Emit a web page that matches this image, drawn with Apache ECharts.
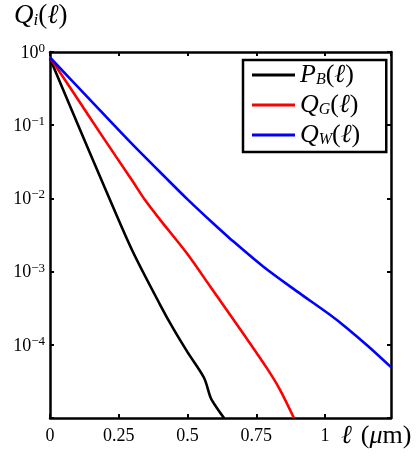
<!DOCTYPE html>
<html><head><meta charset="utf-8">
<script src="https://cdn.jsdelivr.net/npm/echarts@6.0.0/dist/echarts.min.js"></script>
<style>html,body{margin:0;padding:0;background:#fff}#c{width:417px;height:462px}</style>
</head><body><div id="c"></div>
<script>
// tick labels
const xTickValues = [0, 0.25, 0.5, 0.75, 1];
const yTickExponents = [0, -1, -2, -3, -4];
// series names
const seriesNames = ['PB', 'QG', 'QW'];
// P_B(l)
const pbX = [0, 0.1, 0.2, 0.3, 0.4, 0.45, 0.5, 0.56, 0.585, 0.61, 0.633];
const pbY = [0.813, 0.105, 0.0138, 0.00191, 0.000355, 0.000162, 0.0000794, 0.0000355, 0.0000186, 0.0000132, 0.00001];
// Q_G(l)
const qgX = [0, 0.091, 0.182, 0.297, 0.345, 0.4, 0.497, 0.582, 0.698, 0.788, 0.836, 0.887];
const qgY = [0.841, 0.259, 0.0785, 0.01795, 0.00957, 0.00513, 0.00179, 0.000631, 0.000151, 0.0000484, 0.0000245, 0.00001];
// Q_W(l)
const qwX = [0, 0.145, 0.284, 0.424, 0.502, 0.593, 0.655, 0.775, 0.898, 1.018, 1.079, 1.157, 1.24];
const qwY = [0.841, 0.224, 0.0631, 0.01862, 0.00955, 0.00457, 0.00282, 0.001175, 0.000537, 0.000257, 0.00017, 0.0000955, 0.0000495];

const colors = ['#000000', '#ff0000', '#0000ff'];
const zip = (xs, ys) => xs.map((x, i) => [x, ys[i]]);
const serif = '"Liberation Serif", "DejaVu Serif", serif';

const legendText = {
  PB: '{i|P}{sub|B}{n|(}{i|ℓ}{n|)}',
  QG: '{i|Q}{sub|G}{n|(}{i|ℓ}{n|)}',
  QW: '{i|Q}{sub|W}{n|(}{i|ℓ}{n|)}'
};

const chart = echarts.init(document.getElementById('c'), null, {renderer: 'canvas'});
const tickStyle = {show: true, inside: true, length: 4, lineStyle: {color: '#000', width: 2}};
const lineStyleAxis = {show: true, onZero: false, lineStyle: {color: '#000', width: 2.5}};

chart.setOption({
  animation: false,
  backgroundColor: '#fff',
  grid: {left: 50, right: 26, top: 52, bottom: 44, containLabel: false},
  xAxis: [{
    type: 'value', min: 0, max: 1.24, interval: 0.25, position: 'bottom',
    axisLine: lineStyleAxis, axisTick: tickStyle, splitLine: {show: false},
    axisLabel: {
      color: '#000', fontFamily: serif, fontSize: 18, margin: 9, showMaxLabel: false,
      formatter: v => xTickValues.indexOf(v) >= 0 ? String(v) : ''
    }
  }, {
    type: 'value', min: 0, max: 1.24, interval: 0.25, position: 'top',
    axisLine: lineStyleAxis, axisTick: tickStyle, splitLine: {show: false},
    axisLabel: {show: false}
  }],
  yAxis: [{
    type: 'log', logBase: 10, min: 0.00001, max: 1, position: 'left',
    axisLine: lineStyleAxis, axisTick: tickStyle, splitLine: {show: false},
    axisLabel: {
      color: '#000', fontFamily: serif, fontSize: 18, margin: 5,
      formatter: v => {
        const e = Math.round(Math.log10(v));
        if (yTickExponents.indexOf(e) < 0) return '';
        return '{b|10}{s|' + (e < 0 ? '−' + (-e) : String(e)) + '}';
      },
      rich: {
        b: {fontFamily: serif, fontSize: 18, color: '#000', verticalAlign: 'bottom', lineHeight: 20},
        s: {fontFamily: serif, fontSize: 13, color: '#000', verticalAlign: 'top', lineHeight: 20, padding: [0, 0, 12, 0]}
      }
    }
  }, {
    type: 'log', logBase: 10, min: 0.00001, max: 1, position: 'right',
    axisLine: lineStyleAxis, axisTick: tickStyle, splitLine: {show: false},
    axisLabel: {show: false}
  }],
  legend: {
    left: 243, top: 60, orient: 'vertical',
    data: seriesNames,
    borderColor: '#000', borderWidth: 2.5, borderRadius: 0, backgroundColor: '#fff',
    padding: [0, 26, 2, 9], itemGap: 0,
    itemWidth: 43, itemHeight: 3, icon: 'rect', itemTextGap: 4,
    formatter: name => legendText[name],
    textStyle: {
      color: '#000', fontFamily: serif, fontSize: 25, lineHeight: 30,
      rich: {
        i: {fontFamily: serif, fontStyle: 'italic', fontSize: 26, color: '#000', lineHeight: 30},
        n: {fontFamily: serif, fontSize: 26, color: '#000', lineHeight: 30},
        sub: {fontFamily: serif, fontStyle: 'italic', fontSize: 16, color: '#000', lineHeight: 30, padding: [10, 0, 0, 0]}
      }
    }
  },
  graphic: [{
    type: 'text', left: 14, top: 2,
    style: {
      text: '{i|Q}{sub|i}{n|(}{i|ℓ}{n|)}',
      rich: {
        i: {fontFamily: serif, fontStyle: 'italic', fontSize: 27, fill: '#000', lineHeight: 32},
        n: {fontFamily: serif, fontSize: 27, fill: '#000', lineHeight: 32},
        sub: {fontFamily: serif, fontStyle: 'italic', fontSize: 17, fill: '#000', lineHeight: 32, padding: [10, 0, 0, 0]}
      }
    }
  }, {
    type: 'text', left: 341, top: 423,
    style: {
      text: '{i|ℓ}{g| }{n|(}{i|μ}{n|m)}',
      rich: {
        i: {fontFamily: serif, fontStyle: 'italic', fontSize: 26, fill: '#000', lineHeight: 30},
        n: {fontFamily: serif, fontSize: 26, fill: '#000', lineHeight: 30},
        g: {fontFamily: serif, fontSize: 26, fill: '#000', lineHeight: 30, width: 9}
      }
    }
  }],
  series: [
    {name: 'PB', data: zip(pbX, pbY)},
    {name: 'QG', data: zip(qgX, qgY)},
    {name: 'QW', data: zip(qwX, qwY)}
  ].map((s, i) => ({
    name: s.name, type: 'line', data: s.data, showSymbol: false, symbol: 'none',
    smooth: 0.3, clip: true, color: colors[i],
    lineStyle: {color: colors[i], width: 2.6}, z: 3
  }))
});
</script></body></html>
